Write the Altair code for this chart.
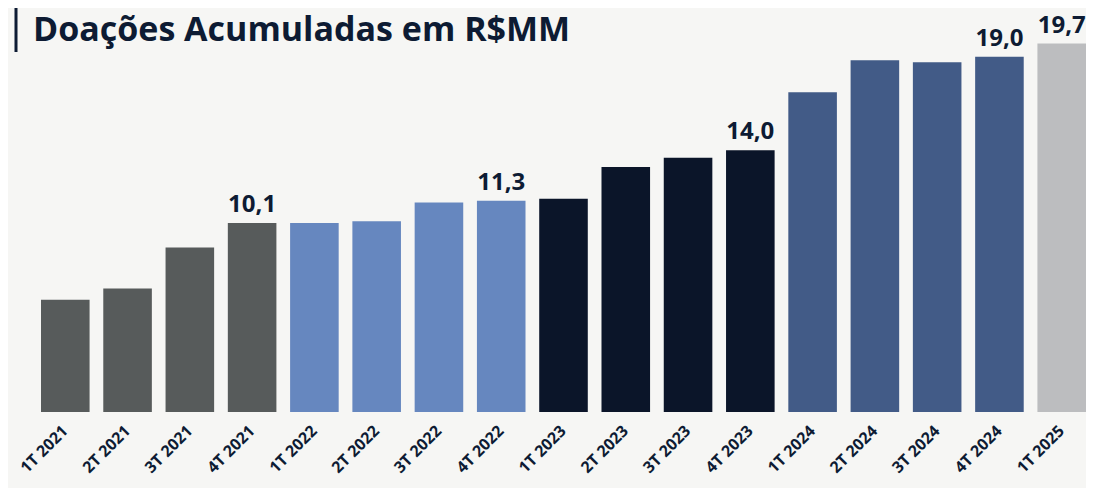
import altair as alt
import pandas as pd

quarters = ["1T 2021", "2T 2021", "3T 2021", "4T 2021",
            "1T 2022", "2T 2022", "3T 2022", "4T 2022",
            "1T 2023", "2T 2023", "3T 2023", "4T 2023",
            "1T 2024", "2T 2024", "3T 2024", "4T 2024",
            "1T 2025"]
values = [6.0, 6.6, 8.8, 10.1,
          10.1, 10.2, 11.2, 11.3,
          11.4, 13.1, 13.6, 14.0,
          17.1, 18.8, 18.7, 19.0,
          19.7]
years = ["2021"] * 4 + ["2022"] * 4 + ["2023"] * 4 + ["2024"] * 4 + ["2025"]
labels = ["", "", "", "10,1", "", "", "", "11,3", "", "", "", "14,0",
          "", "", "", "19,0", "19,7"]
year_domain = ["2021", "2022", "2023", "2024", "2025"]
year_colors = ["#575b5b", "#6687bf", "#0b1529", "#425b87", "#bcbdbf"]
title_text = "Doações Acumuladas em R$MM"

df = pd.DataFrame({"q": quarters, "v": values, "year": years, "label": labels})

navy = "#0d1b33"
x = alt.X("q:N", sort=quarters, title=None,
          scale=alt.Scale(range=[33, 1078], paddingInner=0.22, paddingOuter=0),
          axis=alt.Axis(labelAngle=-45, labelAlign="right", labelBaseline="middle",
                        labelFont="Open Sans", labelFontWeight="bold", labelFontSize=16,
                        labelColor=navy, ticks=False, domain=False, labelPadding=16))
y = alt.Y("v:Q", scale=alt.Scale(domain=[0, 21.6], nice=False), axis=None)

base = alt.Chart(df)
bars = base.mark_bar().encode(
    x=x, y=y,
    color=alt.Color("year:N", scale=alt.Scale(domain=year_domain, range=year_colors), legend=None),
)
texts = base.mark_text(dy=-6, baseline="bottom", font="Open Sans", fontWeight="bold",
                       fontSize=24, color=navy).encode(x=x, y=y, text="label:N")

title = alt.Chart(pd.DataFrame({"t": [title_text]})).mark_text(
    align="left", baseline="alphabetic", font="Open Sans", fontWeight="bold",
    fontSize=34, color=navy).encode(x=alt.value(25), y=alt.value(33), text="t:N")
bar_rule = alt.Chart(pd.DataFrame({"a": [0]})).mark_rule(color=navy, strokeWidth=3).encode(
    x=alt.value(8), y=alt.value(-8), y2=alt.value(44))

chart = alt.layer(bars, texts, title, bar_rule).properties(
    width=1078, height=404,
    autosize=alt.AutoSizeParams(type="none"),
    padding={"left": 0, "top": 0, "right": 0, "bottom": 76},
    background="#f6f6f4",
).configure_view(stroke=None)

chart.save("out.html", embed_options={"renderer": "svg", "actions": False})
